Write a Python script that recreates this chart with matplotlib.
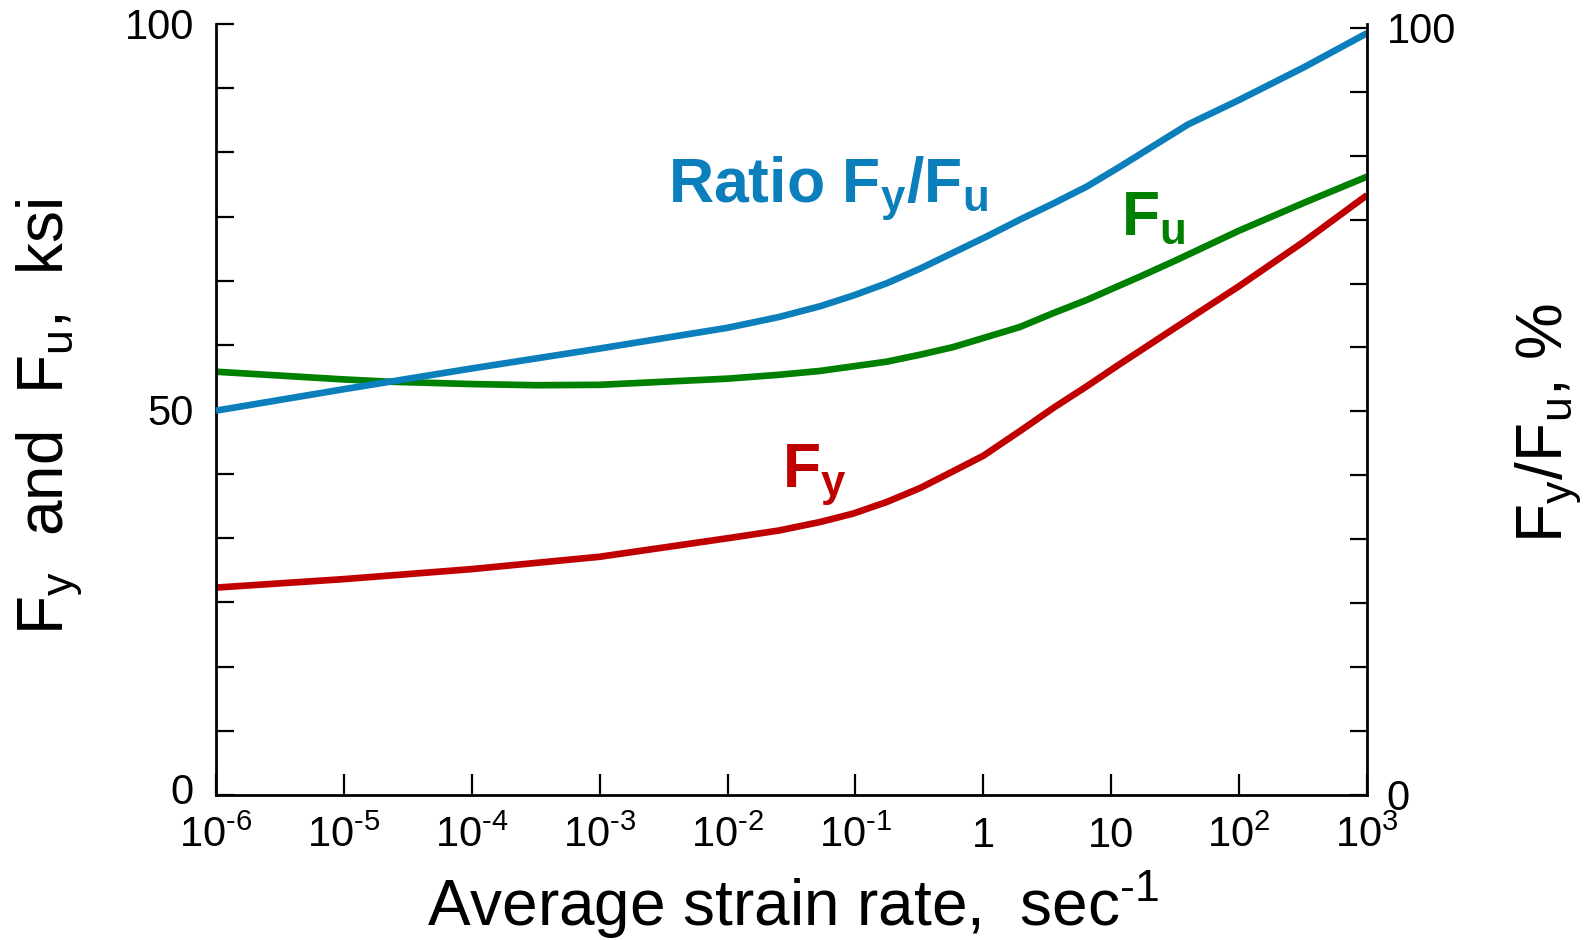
import numpy as np
import matplotlib
matplotlib.use("Agg")
import matplotlib.pyplot as plt
from matplotlib.transforms import ScaledTranslation

plt.rcParams["font.family"] = ["Liberation Sans", "DejaVu Sans"]
plt.rcParams["mathtext.fontset"] = "custom"
plt.rcParams["mathtext.rm"] = "Liberation Sans"
plt.rcParams["mathtext.it"] = "Liberation Sans:italic"
plt.rcParams["mathtext.bf"] = "Liberation Sans:bold"

# log10 of strain rate (sec^-1) and the value of each curve there
log_rate_ratio = [-6, -5, -4, -3, -2, -1.6, -1.278, -1.018, -0.756, -0.496, -0.235,
                  0.026, 0.286, 0.547, 0.808, 1.068, 1.3, 1.6, 2, 2.5, 3]
ratio_pct = [50.1, 52.9, 55.6, 58.2, 60.9, 62.3, 63.7, 65.1, 66.7, 68.6, 70.7,
             72.8, 75.0, 77.1, 79.3, 81.9, 84.3, 87.4, 90.6, 94.8, 99.3]

log_rate_fu = [-6, -5, -4.64, -4, -3.5, -3, -2, -1.6, -1.278, -1.018, -0.756, -0.496, -0.235,
               0.026, 0.286, 0.547, 0.808, 1.068, 1.22, 1.5, 2, 2.52, 3]
fu_ksi = [54.9, 53.9, 53.6, 53.3, 53.15, 53.2, 54.0, 54.5, 55.0, 55.6, 56.2, 57.1, 58.1,
          59.4, 60.7, 62.5, 64.2, 66.1, 67.2, 69.3, 73.2, 76.9, 80.2]

log_rate_fy = [-6, -5, -4, -3, -2, -1.6, -1.278, -1.018, -0.756, -0.496, -0.235,
               0, 0.286, 0.547, 0.808, 1.068, 1.5, 2, 2.5, 3]
fy_ksi = [26.9, 28.0, 29.3, 30.9, 33.3, 34.3, 35.4, 36.5, 38.0, 39.8, 42.0,
          44.0, 47.2, 50.2, 53.0, 55.9, 60.6, 66.0, 71.7, 77.8]

decades = [-6, -5, -4, -3, -2, -1, 0, 1, 2, 3]
x_tick_labels = [r"$10^{\text{-6}}$", r"$10^{\text{-5}}$", r"$10^{\text{-4}}$",
                 r"$10^{\text{-3}}$", r"$10^{\text{-2}}$", r"$10^{\text{-1}}$",
                 "1", "10", r"$10^{2}$", r"$10^{3}$"]

BLUE = "#0b7fbc"
GREEN = "#008000"
RED = "#c00000"
LW = 4.8

fig = plt.figure(figsize=(15.87, 9.40), dpi=100)
ax = fig.add_axes([216 / 1587, 145 / 940, (1367 - 216) / 1587, (795 - 24) / 940])
ax2 = ax.twinx()

rate_fu = 10.0 ** np.array(log_rate_fu)
rate_fy = 10.0 ** np.array(log_rate_fy)
rate_ratio = 10.0 ** np.array(log_rate_ratio)

line_kw = dict(lw=LW, solid_capstyle="butt", solid_joinstyle="round", clip_on=False)
ax.plot(rate_fu, fu_ksi, color=GREEN, **line_kw)
ax.plot(rate_fy, fy_ksi, color=RED, **line_kw)
ax2.plot(rate_ratio, ratio_pct, color=BLUE, **line_kw)

ax.set_xscale("log")
ax.set_xlim(1e-6, 1e3)
ax.set_ylim(0, 100)
ax2.set_ylim(0, 100.5)

ax.set_xticks([10.0 ** d for d in decades])
ax.set_xticklabels(x_tick_labels)
ax.xaxis.set_minor_locator(matplotlib.ticker.NullLocator())

yt = np.linspace(0, 100, 13)
ax.set_yticks(yt)
ax.set_yticklabels(["0" if v == 0 else "50" if v == 50 else "100" if v == 100 else "" for v in yt])
ax2.set_yticks(yt)
ax2.set_yticklabels(["0" if v == 0 else "100" if v == 100 else "" for v in yt])

for a in (ax, ax2):
    a.spines["top"].set_visible(False)
    for s in a.spines.values():
        s.set_linewidth(2.0)
    a.set_facecolor("none")

ax.spines["right"].set_visible(False)
ax2.spines["left"].set_visible(False)
ax2.spines["bottom"].set_visible(False)

ax.tick_params(axis="x", direction="in", length=15, width=1.6, pad=15, labelsize=30)
ax.tick_params(axis="y", direction="in", length=13, width=1.6, pad=16, labelsize=30)
ax2.tick_params(axis="y", direction="in", length=12, width=1.6, pad=14, labelsize=30)

# lift the left-hand "0" a little off the corner
zero_label = ax.yaxis.get_major_ticks()[0].label1
zero_label.set_transform(zero_label.get_transform()
                         + ScaledTranslation(0, 6 / 100, fig.dpi_scale_trans))

fig.text(50 / 1587, 1 - 417 / 940, r"F$_\mathrm{y}$  and  F$_\mathrm{u}$,  ksi",
         rotation=90, ha="center", va="center", fontsize=46)
fig.text(1549 / 1587, 1 - 423 / 940, r"F$_\mathrm{y}$/F$_\mathrm{u}$, %",
         rotation=90, ha="center", va="center", fontsize=46)
fig.text(793 / 1587, 1 - 926 / 940, r"Average strain rate,  sec$^{\text{-1}}$",
         ha="center", va="baseline", fontsize=46)

ax.text(10 ** -2.466, 76.9, r"$\mathbf{Ratio\ F_y/F_u}$", color=BLUE, fontsize=45,
        ha="left", va="baseline")
ax.text(10 ** 1.076, 72.6, r"$\mathbf{F_u}$", color=GREEN, fontsize=45,
        ha="left", va="baseline")
ax.text(10 ** -1.575, 39.9, r"$\mathbf{F_y}$", color=RED, fontsize=45,
        ha="left", va="baseline")

fig.savefig("out.png", dpi=100)
